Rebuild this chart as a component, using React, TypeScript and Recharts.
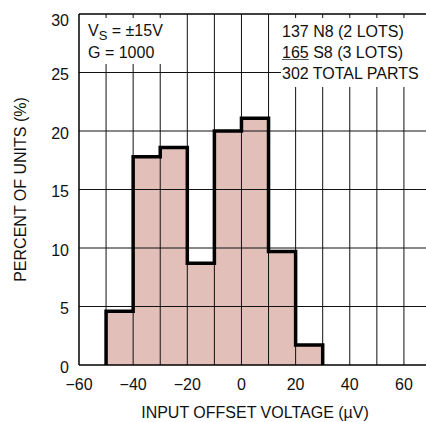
import { ComposedChart, Area, Line, XAxis, YAxis, ReferenceLine } from 'recharts';

// histogram bins (µV) and percent of units in each
const binStarts = [-50, -40, -30, -20, -10, 0, 10, 20];
const binWidth = 10;
const percents = [4.6, 17.8, 18.6, 8.7, 20.0, 21.1, 9.7, 1.7];

const xTicks = [-60, -40, -20, 0, 20, 40, 60];
const yTicks = [0, 5, 10, 15, 20, 25, 30];
const xGrid = [-50, -40, -30, -20, -10, 0, 10, 20, 30, 40, 50, 60];
const yGrid = [5, 10, 15, 20, 25];

const FONT = "'Liberation Sans', Arial, sans-serif";
const FS = 16;

// step outline: start on the baseline, one point per bin, close on the baseline
const lastEdge = binStarts[binStarts.length - 1] + binWidth;
const steps = [
  { v: binStarts[0], p: 0 },
  ...binStarts.map((b, i) => ({ v: b, p: percents[i] })),
  { v: lastEdge, p: 0 },
];

const fmtX = (n: number) => (n < 0 ? `\u2212${Math.abs(n)}` : `${n}`);

function YTick(props: any) {
  const { x, y, payload } = props;
  // top label sits a little lower so it is not cut off
  const dy = payload.value === 30 ? 6 : 2;
  return (
    <text x={x} y={y + dy} textAnchor="end" dominantBaseline="central" fill="#111" fontSize={FS} fontFamily={FONT}>
      {payload.value}
    </text>
  );
}

export default function App() {
  return (
    <div style={{ position: 'absolute', left: 0, top: 0, width: 426, height: 422, overflow: 'hidden', background: '#fff', fontFamily: FONT }}>
      <ComposedChart width={440} height={422} data={steps} margin={{ top: 14, right: 9, bottom: 0, left: 0 }}>
        <XAxis
          type="number"
          dataKey="v"
          domain={[-60, 70]}
          ticks={xTicks}
          interval={0}
          allowDataOverflow
          tickFormatter={fmtX}
          tickLine={false}
          tickSize={0}
          tickMargin={14}
          height={57}
          axisLine={{ stroke: '#000', strokeWidth: 1.5 }}
          tick={{ fill: '#111', fontSize: FS, fontFamily: FONT }}
          label={{
            value: 'INPUT OFFSET VOLTAGE (\u00b5V)',
            position: 'insideBottom',
            offset: 4,
            style: { fill: '#111', fontSize: FS, fontFamily: FONT },
          }}
        />
        <YAxis
          type="number"
          domain={[0, 30]}
          ticks={yTicks}
          interval={0}
          width={79}
          tickLine={false}
          tickSize={0}
          tickMargin={10}
          axisLine={{ stroke: '#000', strokeWidth: 1.5 }}
          tick={<YTick />}
          label={{
            value: 'PERCENT OF UNITS (%)',
            angle: -90,
            position: 'insideLeft',
            offset: 20,
            style: { textAnchor: 'middle', fill: '#111', fontSize: FS, fontFamily: FONT },
          }}
        />

        {/* bar fill */}
        <Area
          type="stepAfter"
          dataKey="p"
          fill="#e2bfb9"
          fillOpacity={1}
          stroke="none"
          isAnimationActive={false}
        />

        {/* grid drawn over the fill */}
        {xGrid.map((g) => (
          <ReferenceLine key={`x${g}`} x={g} stroke="#111" strokeWidth={1} />
        ))}
        {yGrid.map((g) => (
          <ReferenceLine key={`y${g}`} y={g} stroke="#111" strokeWidth={1} />
        ))}
        <ReferenceLine y={30} stroke="#000" strokeWidth={1.5} />

        {/* histogram outline */}
        <Line
          type="stepAfter"
          dataKey="p"
          stroke="#000"
          strokeWidth={3.5}
          dot={false}
          isAnimationActive={false}
        />
      </ComposedChart>

      {/* conditions box, upper left */}
      <div style={{ position: 'absolute', left: 80, top: 18, width: 96, height: 46, background: '#fff' }} />
      <div style={{ position: 'absolute', left: 88, top: 20, fontSize: FS, lineHeight: '21px', color: '#111', whiteSpace: 'nowrap' }}>
        <div>
          V<span style={{ fontSize: 13, position: 'relative', top: 4 }}>S</span> = ±15V
        </div>
        <div>G = 1000</div>
      </div>

      {/* parts count box, upper right */}
      <div style={{ position: 'absolute', left: 281, top: 18, width: 150, height: 69, background: '#fff' }} />
      <div style={{ position: 'absolute', left: 282, top: 21, fontSize: FS, lineHeight: '21px', color: '#111', whiteSpace: 'nowrap' }}>
        <div>137 N8 (2 LOTS)</div>
        <div>
          <span style={{ textDecoration: 'underline', textDecorationColor: '#555' }}>165</span> S8 (3 LOTS)
        </div>
        <div>302 TOTAL PARTS</div>
      </div>
    </div>
  );
}
